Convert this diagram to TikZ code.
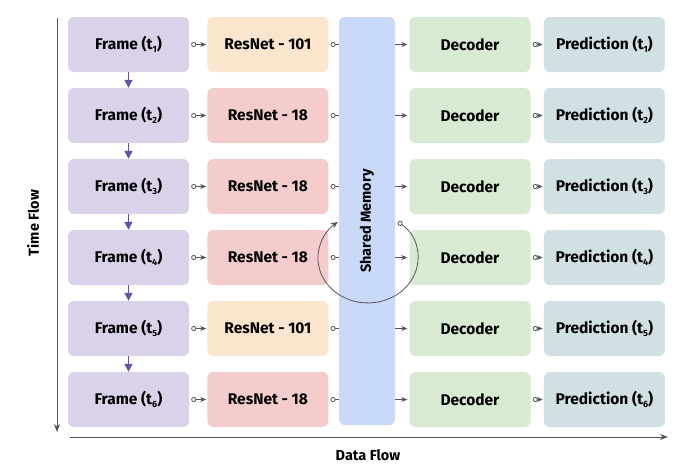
\documentclass[tikz,border=0pt]{standalone}
\usepackage{fontspec}
\setmainfont{Fira Sans}
\usetikzlibrary{arrows.meta,positioning}
\definecolor{cframe}{HTML}{D9D2E9}
\definecolor{cbig}{HTML}{FCE5CD}
\definecolor{csmall}{HTML}{F4CCCC}
\definecolor{cmem}{HTML}{C9DAF8}
\definecolor{cdec}{HTML}{D9EAD3}
\definecolor{cpred}{HTML}{D0E0E3}
\definecolor{cline}{HTML}{555555}
\definecolor{cpurple}{HTML}{674EA7}
\newcommand{\tsb}[1]{(t\raisebox{-3.5pt}{\fontsize{9}{9}\selectfont #1})}
\tikzset{
  blk/.style={rounded corners=6pt, minimum width=121pt, minimum height=55pt, inner sep=2pt,
    font=\fontsize{15.5}{18}\selectfont\bfseries, text=black},
  framebox/.style={blk, fill=cframe},
  bigbox/.style={blk, fill=cbig},
  smallbox/.style={blk, fill=csmall},
  decbox/.style={blk, fill=cdec},
  predbox/.style={blk, fill=cpred},
  link/.style={draw=cline, line width=0.8pt, {Circle[open,length=5pt]}-{Stealth[length=6pt,width=5pt]}, shorten <=2pt, shorten >=1pt},
  tomem/.style={draw=cline, line width=0.8pt, {Circle[open,length=5pt]}-, shorten <=2pt},
  frommem/.style={draw=cline, line width=0.8pt, -{Stealth[length=6pt,width=5pt]}, shorten >=2pt},
  tdown/.style={draw=cpurple, line width=1.4pt, -{Triangle[length=8pt,width=8pt]}},
  axis/.style={draw=cline, line width=1pt, -{Stealth[length=8pt,width=6pt]}},
  axlabel/.style={font=\fontsize{14.5}{16}\selectfont\bfseries, text=black}
}
\begin{document}
\begin{tikzpicture}[x=1pt,y=1pt]
  \useasboundingbox (0,0) rectangle (687,-472);
  % frames
  \node[framebox] (f1) at (128.5,-44.5) {Frame \tsb{1}};
  \node[framebox] (f2) at (128.5,-115.5) {Frame \tsb{2}};
  \node[framebox] (f3) at (128.5,-186.5) {Frame \tsb{3}};
  \node[framebox] (f4) at (128.5,-257.5) {Frame \tsb{4}};
  \node[framebox] (f5) at (128.5,-328.5) {Frame \tsb{5}};
  \node[framebox] (f6) at (128.5,-399.5) {Frame \tsb{6}};
  % backbones
  \node[bigbox, right=18pt of f1] (r1) {ResNet - 101};
  \node[smallbox, right=18pt of f2] (r2) {ResNet - 18};
  \node[smallbox, right=18pt of f3] (r3) {ResNet - 18};
  \node[smallbox, right=18pt of f4] (r4) {ResNet - 18};
  \node[bigbox, right=18pt of f5] (r5) {ResNet - 101};
  \node[smallbox, right=18pt of f6] (r6) {ResNet - 18};
  % shared memory
  \node[fill=cmem, rounded corners=6pt, minimum width=56pt, minimum height=408pt] (mem) at (367,-221) {};
  \node[rotate=90, font=\fontsize{14.5}{16}\selectfont\bfseries, text=black] (memtxt) at (mem) {Shared Memory};
  % decoders
  \node[decbox] (d1) at (470,-44.5) {Decoder};
  \node[decbox] (d2) at (470,-115.5) {Decoder};
  \node[decbox] (d3) at (470,-186.5) {Decoder};
  \node[decbox] (d4) at (470,-257.5) {Decoder};
  \node[decbox] (d5) at (470,-328.5) {Decoder};
  \node[decbox] (d6) at (470,-399.5) {Decoder};
  % predictions
  \node[predbox, right=13pt of d1] (p1) {Prediction \tsb{1}};
  \node[predbox, right=13pt of d2] (p2) {Prediction \tsb{2}};
  \node[predbox, right=13pt of d3] (p3) {Prediction \tsb{3}};
  \node[predbox, right=13pt of d4] (p4) {Prediction \tsb{4}};
  \node[predbox, right=13pt of d5] (p5) {Prediction \tsb{5}};
  \node[predbox, right=13pt of d6] (p6) {Prediction \tsb{6}};

  % time steps
  \draw[tdown] (f1) -- (f2);
  \draw[tdown] (f2) -- (f3);
  \draw[tdown] (f3) -- (f4);
  \draw[tdown] (f4) -- (f5);
  \draw[tdown] (f5) -- (f6);

  % data path
  \draw[link] (f1) -- (r1);
  \draw[link] (f2) -- (r2);
  \draw[link] (f3) -- (r3);
  \draw[link] (f4) -- (r4);
  \draw[link] (f5) -- (r5);
  \draw[link] (f6) -- (r6);
  \draw[tomem] (r1.east) -- (r1.east -| mem.west);
  \draw[tomem] (r2.east) -- (r2.east -| mem.west);
  \draw[tomem] (r3.east) -- (r3.east -| mem.west);
  \draw[tomem] (r4.east) -- (r4.east -| mem.west);
  \draw[tomem] (r5.east) -- (r5.east -| mem.west);
  \draw[tomem] (r6.east) -- (r6.east -| mem.west);
  \draw[frommem] (mem.east |- d1) -- (d1);
  \draw[frommem] (mem.east |- d2) -- (d2);
  \draw[frommem] (mem.east |- d3) -- (d3);
  \draw[frommem] (mem.east |- d4) -- (d4);
  \draw[frommem] (mem.east |- d5) -- (d5);
  \draw[frommem] (mem.east |- d6) -- (d6);
  \draw[link] (d1) -- (p1);
  \draw[link] (d2) -- (p2);
  \draw[link] (d3) -- (p3);
  \draw[link] (d4) -- (p4);
  \draw[link] (d5) -- (p5);
  \draw[link] (d6) -- (p6);

  % memory update loop
  \coordinate (lp) at (398,-222);
  \draw[draw=cline, line width=0.8pt, {Circle[open,length=5pt]}-{Stealth[length=7pt,width=6pt]}]
    (lp) arc[start angle=53, end angle=-233, x radius=50, y radius=45];

  % axes
  \coordinate (ttop) at (57,-18);
  \coordinate (tbot) at (57,-432);
  \coordinate (dl) at (70,-437);
  \coordinate (dr) at (668,-437);
  \draw[axis] (ttop) -- (tbot);
  \draw[axis] (dl) -- (dr);
  \node[axlabel, rotate=90] (tflow) at (33,-223) {Time Flow};
  \node[axlabel] (dflow) at (368,-455) {Data Flow};
\end{tikzpicture}
\end{document}
